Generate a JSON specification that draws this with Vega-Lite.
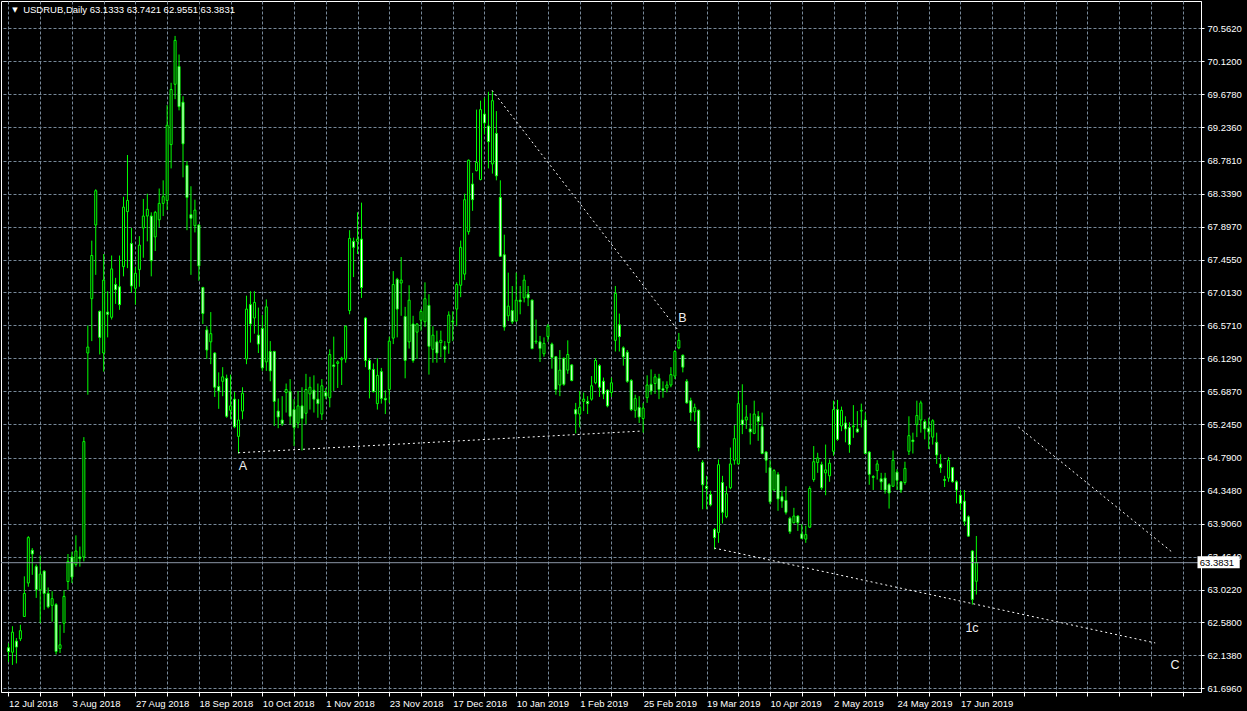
{
  "$schema": "https://vega.github.io/schema/vega-lite/v6.json",
  "width": 1200,
  "height": 691,
  "autosize": {"type": "none"},
  "padding": {"left": 1, "top": 1, "right": 46, "bottom": 19},
  "background": "black",
  "config": {
    "view": {"stroke": "white", "strokeWidth": 1},
    "axis": {
      "domainColor": "white", "tickColor": "white", "labelColor": "white",
      "labelFont": "Liberation Sans", "labelFontSize": 9.5,
      "gridColor": "#778899", "gridDash": [3, 2], "gridOpacity": 1, "gridWidth": 1,
      "labelOverlap": false, "labelFlush": false, "labelBound": false
    }
  },
  "datasets": {
    "candles": [
      {"i":0,"o":62.24,"h":62.30,"l":62.05,"c":62.19},
      {"i":1,"o":62.18,"h":62.53,"l":62.01,"c":62.45},
      {"i":2,"o":62.33,"h":62.37,"l":62.03,"c":62.25},
      {"i":3,"o":62.36,"h":62.55,"l":62.33,"c":62.47},
      {"i":4,"o":62.66,"h":63.20,"l":62.66,"c":62.97},
      {"i":5,"o":63.11,"h":63.74,"l":63.06,"c":63.72},
      {"i":6,"o":63.55,"h":63.58,"l":63.22,"c":63.50},
      {"i":7,"o":63.33,"h":63.36,"l":62.91,"c":63.02},
      {"i":8,"o":63.02,"h":63.48,"l":62.57,"c":63.23},
      {"i":9,"o":63.27,"h":63.28,"l":62.75,"c":62.97},
      {"i":10,"o":62.97,"h":63.05,"l":62.77,"c":62.79},
      {"i":11,"o":62.81,"h":63.00,"l":62.59,"c":62.90},
      {"i":12,"o":62.82,"h":62.84,"l":62.15,"c":62.19},
      {"i":13,"o":62.23,"h":62.55,"l":62.17,"c":62.28},
      {"i":14,"o":62.57,"h":63.01,"l":62.44,"c":62.93},
      {"i":15,"o":63.13,"h":63.50,"l":63.02,"c":63.40},
      {"i":16,"o":63.46,"h":63.53,"l":63.11,"c":63.19},
      {"i":17,"o":63.36,"h":63.75,"l":63.33,"c":63.54},
      {"i":18,"o":63.46,"h":63.60,"l":63.33,"c":63.44},
      {"i":19,"o":63.46,"h":65.07,"l":63.40,"c":65.01},
      {"i":20,"o":66.20,"h":66.57,"l":65.64,"c":66.28},
      {"i":21,"o":66.93,"h":67.71,"l":66.36,"c":67.51},
      {"i":22,"o":67.92,"h":68.40,"l":67.25,"c":68.38},
      {"i":23,"o":66.76,"h":66.77,"l":66.18,"c":66.41},
      {"i":24,"o":66.20,"h":67.53,"l":65.95,"c":67.18},
      {"i":25,"o":66.75,"h":67.03,"l":66.41,"c":66.72},
      {"i":26,"o":66.68,"h":67.51,"l":66.65,"c":67.33},
      {"i":27,"o":67.12,"h":67.21,"l":66.86,"c":67.05},
      {"i":28,"o":67.09,"h":67.51,"l":66.78,"c":66.85},
      {"i":29,"o":67.36,"h":68.30,"l":67.23,"c":68.16},
      {"i":30,"o":68.10,"h":68.86,"l":67.34,"c":68.25},
      {"i":31,"o":67.67,"h":67.88,"l":67.01,"c":67.10},
      {"i":32,"o":67.07,"h":67.35,"l":66.85,"c":67.27},
      {"i":33,"o":67.32,"h":67.77,"l":67.09,"c":67.65},
      {"i":34,"o":67.88,"h":68.27,"l":67.48,"c":68.04},
      {"i":35,"o":68.04,"h":68.34,"l":67.70,"c":68.13},
      {"i":36,"o":68.04,"h":68.09,"l":67.23,"c":67.44},
      {"i":37,"o":67.76,"h":68.11,"l":67.57,"c":68.09},
      {"i":38,"o":67.99,"h":68.41,"l":67.89,"c":68.21},
      {"i":39,"o":68.21,"h":68.52,"l":68.04,"c":68.30},
      {"i":40,"o":68.25,"h":69.53,"l":68.12,"c":69.26},
      {"i":41,"o":69.00,"h":69.83,"l":68.68,"c":69.74},
      {"i":42,"o":69.81,"h":70.46,"l":69.61,"c":70.40},
      {"i":43,"o":70.05,"h":70.21,"l":69.46,"c":69.51},
      {"i":44,"o":69.57,"h":69.65,"l":68.56,"c":69.01},
      {"i":45,"o":68.72,"h":68.78,"l":67.85,"c":68.29},
      {"i":46,"o":68.06,"h":68.44,"l":67.25,"c":68.01},
      {"i":47,"o":67.91,"h":68.26,"l":67.82,"c":68.12},
      {"i":48,"o":67.92,"h":67.93,"l":67.17,"c":67.37},
      {"i":49,"o":67.08,"h":67.09,"l":66.59,"c":66.73},
      {"i":50,"o":66.51,"h":66.56,"l":66.12,"c":66.24},
      {"i":51,"o":66.35,"h":66.75,"l":66.05,"c":66.46},
      {"i":52,"o":66.20,"h":66.21,"l":65.61,"c":65.74},
      {"i":53,"o":65.75,"h":65.94,"l":65.45,"c":65.69},
      {"i":54,"o":65.82,"h":66.01,"l":65.62,"c":65.88},
      {"i":55,"o":65.86,"h":65.91,"l":65.33,"c":65.35},
      {"i":56,"o":65.43,"h":65.91,"l":65.31,"c":65.49},
      {"i":57,"o":65.58,"h":65.68,"l":65.19,"c":65.21},
      {"i":58,"o":65.08,"h":65.58,"l":64.85,"c":65.30},
      {"i":59,"o":65.42,"h":65.74,"l":65.31,"c":65.66},
      {"i":60,"o":66.12,"h":66.97,"l":66.05,"c":66.79},
      {"i":61,"o":66.85,"h":67.03,"l":66.34,"c":66.59},
      {"i":62,"o":66.67,"h":67.03,"l":66.46,"c":66.88},
      {"i":63,"o":66.44,"h":66.81,"l":66.20,"c":66.32},
      {"i":64,"o":66.53,"h":66.71,"l":65.96,"c":66.00},
      {"i":65,"o":66.08,"h":66.92,"l":65.96,"c":66.82},
      {"i":66,"o":66.22,"h":66.36,"l":65.82,"c":65.96},
      {"i":67,"o":66.22,"h":66.23,"l":65.22,"c":65.55},
      {"i":68,"o":65.42,"h":65.59,"l":65.19,"c":65.34},
      {"i":69,"o":65.30,"h":65.62,"l":65.22,"c":65.25},
      {"i":70,"o":65.67,"h":65.79,"l":65.40,"c":65.71},
      {"i":71,"o":65.68,"h":65.85,"l":65.24,"c":65.35},
      {"i":72,"o":65.44,"h":65.58,"l":64.95,"c":65.20},
      {"i":73,"o":65.26,"h":65.69,"l":65.19,"c":65.49},
      {"i":74,"o":65.49,"h":65.74,"l":64.89,"c":65.32},
      {"i":75,"o":65.39,"h":65.92,"l":65.24,"c":65.71},
      {"i":76,"o":65.65,"h":65.88,"l":65.44,"c":65.74},
      {"i":77,"o":65.70,"h":65.90,"l":65.40,"c":65.58},
      {"i":78,"o":65.58,"h":65.79,"l":65.33,"c":65.52},
      {"i":79,"o":65.38,"h":65.85,"l":65.30,"c":65.76},
      {"i":80,"o":65.67,"h":65.73,"l":65.58,"c":65.62},
      {"i":81,"o":65.60,"h":66.25,"l":65.47,"c":66.18},
      {"i":82,"o":66.04,"h":66.42,"l":65.69,"c":66.02},
      {"i":83,"o":66.06,"h":66.10,"l":65.73,"c":66.08},
      {"i":84,"o":66.11,"h":66.15,"l":65.77,"c":66.13},
      {"i":85,"o":66.12,"h":66.57,"l":66.07,"c":66.56},
      {"i":86,"o":66.77,"h":67.85,"l":66.72,"c":67.74},
      {"i":87,"o":67.70,"h":67.75,"l":67.22,"c":67.62},
      {"i":88,"o":67.70,"h":68.09,"l":67.53,"c":67.73},
      {"i":89,"o":67.73,"h":68.22,"l":66.94,"c":67.08},
      {"i":90,"o":66.67,"h":66.68,"l":66.01,"c":66.10},
      {"i":91,"o":66.10,"h":66.13,"l":65.59,"c":65.98},
      {"i":92,"o":65.98,"h":66.06,"l":65.67,"c":65.68},
      {"i":93,"o":65.52,"h":66.13,"l":65.44,"c":65.90},
      {"i":94,"o":65.95,"h":66.00,"l":65.52,"c":65.59},
      {"i":95,"o":65.59,"h":65.70,"l":65.38,"c":65.57},
      {"i":96,"o":65.71,"h":66.42,"l":65.53,"c":66.36},
      {"i":97,"o":66.40,"h":67.30,"l":66.32,"c":67.12},
      {"i":98,"o":67.19,"h":67.21,"l":66.41,"c":66.79},
      {"i":99,"o":67.14,"h":67.49,"l":66.70,"c":67.18},
      {"i":100,"o":66.69,"h":66.82,"l":65.86,"c":66.10},
      {"i":101,"o":66.35,"h":67.11,"l":66.26,"c":66.91},
      {"i":102,"o":66.59,"h":66.70,"l":66.07,"c":66.10},
      {"i":103,"o":66.48,"h":66.60,"l":66.12,"c":66.59},
      {"i":104,"o":66.64,"h":66.79,"l":66.50,"c":66.76},
      {"i":105,"o":66.62,"h":67.15,"l":66.55,"c":66.93},
      {"i":106,"o":66.84,"h":66.99,"l":65.91,"c":66.29},
      {"i":107,"o":66.25,"h":66.56,"l":66.07,"c":66.44},
      {"i":108,"o":66.35,"h":66.50,"l":66.07,"c":66.20},
      {"i":109,"o":66.34,"h":66.50,"l":66.14,"c":66.37},
      {"i":110,"o":66.29,"h":66.36,"l":66.07,"c":66.25},
      {"i":111,"o":66.34,"h":66.76,"l":66.19,"c":66.71},
      {"i":112,"o":66.63,"h":66.76,"l":66.36,"c":66.62},
      {"i":113,"o":66.79,"h":67.15,"l":66.56,"c":67.12},
      {"i":114,"o":67.11,"h":67.71,"l":66.95,"c":67.62},
      {"i":115,"o":67.26,"h":68.34,"l":67.18,"c":68.26},
      {"i":116,"o":67.83,"h":68.80,"l":67.79,"c":68.79},
      {"i":117,"o":68.47,"h":68.62,"l":68.11,"c":68.26},
      {"i":118,"o":68.65,"h":69.47,"l":68.64,"c":68.76},
      {"i":119,"o":68.53,"h":69.59,"l":68.52,"c":69.47},
      {"i":120,"o":69.41,"h":69.63,"l":69.14,"c":69.29},
      {"i":121,"o":69.25,"h":69.71,"l":68.68,"c":69.04},
      {"i":122,"o":68.74,"h":69.72,"l":68.61,"c":69.59},
      {"i":123,"o":69.15,"h":69.45,"l":68.52,"c":68.58},
      {"i":124,"o":68.29,"h":68.52,"l":67.49,"c":67.50},
      {"i":125,"o":67.52,"h":67.79,"l":66.50,"c":66.55},
      {"i":126,"o":66.70,"h":67.28,"l":66.63,"c":66.83},
      {"i":127,"o":66.77,"h":67.10,"l":66.59,"c":66.62},
      {"i":128,"o":66.63,"h":67.28,"l":66.62,"c":66.91},
      {"i":129,"o":66.91,"h":67.10,"l":66.72,"c":66.89},
      {"i":130,"o":66.94,"h":67.25,"l":66.88,"c":67.18},
      {"i":131,"o":66.99,"h":67.10,"l":66.83,"c":66.94},
      {"i":132,"o":66.91,"h":66.92,"l":66.25,"c":66.26},
      {"i":133,"o":66.35,"h":66.65,"l":66.32,"c":66.36},
      {"i":134,"o":66.35,"h":66.43,"l":66.08,"c":66.26},
      {"i":135,"o":66.19,"h":66.41,"l":66.15,"c":66.33},
      {"i":136,"o":66.42,"h":66.59,"l":66.35,"c":66.56},
      {"i":137,"o":66.32,"h":66.34,"l":65.99,"c":66.14},
      {"i":138,"o":66.15,"h":66.16,"l":65.64,"c":65.71},
      {"i":139,"o":65.77,"h":66.24,"l":65.62,"c":65.97},
      {"i":140,"o":66.13,"h":66.14,"l":65.76,"c":65.78},
      {"i":141,"o":65.97,"h":66.37,"l":65.92,"c":66.18},
      {"i":142,"o":66.04,"h":66.05,"l":65.82,"c":65.83},
      {"i":143,"o":65.44,"h":65.53,"l":65.12,"c":65.38},
      {"i":144,"o":65.38,"h":65.69,"l":65.20,"c":65.47},
      {"i":145,"o":65.55,"h":65.67,"l":65.42,"c":65.58},
      {"i":146,"o":65.55,"h":65.62,"l":65.38,"c":65.52},
      {"i":147,"o":65.58,"h":65.89,"l":65.56,"c":65.76},
      {"i":148,"o":65.80,"h":66.13,"l":65.78,"c":66.10},
      {"i":149,"o":66.03,"h":66.05,"l":65.61,"c":65.74},
      {"i":150,"o":65.82,"h":65.87,"l":65.58,"c":65.65},
      {"i":151,"o":65.70,"h":65.71,"l":65.47,"c":65.49},
      {"i":152,"o":65.67,"h":65.87,"l":65.61,"c":65.80},
      {"i":153,"o":66.37,"h":67.10,"l":66.22,"c":67.00},
      {"i":154,"o":66.58,"h":66.73,"l":66.22,"c":66.42},
      {"i":155,"o":66.27,"h":66.29,"l":66.03,"c":66.15},
      {"i":156,"o":66.21,"h":66.24,"l":65.80,"c":65.82},
      {"i":157,"o":65.83,"h":65.85,"l":65.42,"c":65.44},
      {"i":158,"o":65.43,"h":65.64,"l":65.33,"c":65.59},
      {"i":159,"o":65.47,"h":65.62,"l":65.26,"c":65.34},
      {"i":160,"o":65.32,"h":65.53,"l":65.13,"c":65.46},
      {"i":161,"o":65.60,"h":65.90,"l":65.53,"c":65.77},
      {"i":162,"o":65.78,"h":65.98,"l":65.64,"c":65.69},
      {"i":163,"o":65.79,"h":65.92,"l":65.65,"c":65.88},
      {"i":164,"o":65.86,"h":65.92,"l":65.58,"c":65.71},
      {"i":165,"o":65.72,"h":65.82,"l":65.60,"c":65.70},
      {"i":166,"o":65.73,"h":65.82,"l":65.67,"c":65.77},
      {"i":167,"o":65.77,"h":66.01,"l":65.74,"c":65.91},
      {"i":168,"o":65.89,"h":66.24,"l":65.85,"c":66.22},
      {"i":169,"o":66.27,"h":66.47,"l":66.25,"c":66.37},
      {"i":170,"o":66.17,"h":66.18,"l":65.94,"c":66.01},
      {"i":171,"o":65.82,"h":65.85,"l":65.52,"c":65.53},
      {"i":172,"o":65.56,"h":65.60,"l":65.29,"c":65.40},
      {"i":173,"o":65.41,"h":65.52,"l":65.28,"c":65.47},
      {"i":174,"o":65.43,"h":65.44,"l":64.88,"c":64.93},
      {"i":175,"o":64.73,"h":64.76,"l":64.10,"c":64.43},
      {"i":176,"o":64.41,"h":64.55,"l":64.10,"c":64.38},
      {"i":177,"o":64.30,"h":64.35,"l":64.14,"c":64.16},
      {"i":178,"o":63.83,"h":63.85,"l":63.56,"c":63.72},
      {"i":179,"o":63.79,"h":64.77,"l":63.65,"c":64.70},
      {"i":180,"o":64.46,"h":64.55,"l":63.91,"c":64.06},
      {"i":181,"o":64.00,"h":64.41,"l":63.98,"c":64.31},
      {"i":182,"o":64.39,"h":64.93,"l":64.37,"c":64.71},
      {"i":183,"o":64.76,"h":65.23,"l":64.70,"c":65.05},
      {"i":184,"o":64.71,"h":65.69,"l":64.70,"c":65.52},
      {"i":185,"o":65.30,"h":65.78,"l":65.11,"c":65.24},
      {"i":186,"o":65.30,"h":65.50,"l":65.18,"c":65.34},
      {"i":187,"o":65.18,"h":65.39,"l":64.97,"c":65.14},
      {"i":188,"o":65.12,"h":65.56,"l":65.11,"c":65.38},
      {"i":189,"o":65.35,"h":65.42,"l":65.02,"c":65.28},
      {"i":190,"o":65.21,"h":65.40,"l":64.84,"c":64.85},
      {"i":191,"o":64.87,"h":64.88,"l":64.59,"c":64.76},
      {"i":192,"o":64.66,"h":64.76,"l":64.17,"c":64.20},
      {"i":193,"o":64.36,"h":64.64,"l":64.35,"c":64.62},
      {"i":194,"o":64.57,"h":64.60,"l":64.08,"c":64.24},
      {"i":195,"o":64.27,"h":64.35,"l":64.12,"c":64.21},
      {"i":196,"o":64.22,"h":64.41,"l":64.03,"c":64.06},
      {"i":197,"o":63.98,"h":64.00,"l":63.77,"c":63.80},
      {"i":198,"o":63.92,"h":64.12,"l":63.91,"c":64.01},
      {"i":199,"o":64.01,"h":64.02,"l":63.81,"c":63.92},
      {"i":200,"o":63.77,"h":63.90,"l":63.70,"c":63.71},
      {"i":201,"o":63.70,"h":63.88,"l":63.65,"c":63.76},
      {"i":202,"o":63.86,"h":64.41,"l":63.85,"c":64.38},
      {"i":203,"o":64.50,"h":64.95,"l":64.47,"c":64.74},
      {"i":204,"o":64.73,"h":64.86,"l":64.59,"c":64.79},
      {"i":205,"o":64.70,"h":64.74,"l":64.36,"c":64.39},
      {"i":206,"o":64.59,"h":64.97,"l":64.29,"c":64.63},
      {"i":207,"o":64.55,"h":64.77,"l":64.47,"c":64.72},
      {"i":208,"o":64.88,"h":65.56,"l":64.82,"c":65.44},
      {"i":209,"o":65.44,"h":65.57,"l":65.02,"c":65.04},
      {"i":210,"o":65.22,"h":65.48,"l":65.15,"c":65.43},
      {"i":211,"o":65.26,"h":65.35,"l":65.00,"c":65.18},
      {"i":212,"o":65.20,"h":65.27,"l":64.86,"c":64.97},
      {"i":213,"o":65.21,"h":65.50,"l":65.06,"c":65.22},
      {"i":214,"o":65.18,"h":65.42,"l":65.13,"c":65.14},
      {"i":215,"o":65.42,"h":65.52,"l":65.20,"c":65.43},
      {"i":216,"o":65.30,"h":65.40,"l":64.84,"c":64.85},
      {"i":217,"o":64.87,"h":64.88,"l":64.43,"c":64.57},
      {"i":218,"o":64.54,"h":64.56,"l":64.36,"c":64.53},
      {"i":219,"o":64.62,"h":64.76,"l":64.50,"c":64.71},
      {"i":220,"o":64.51,"h":64.59,"l":64.36,"c":64.47},
      {"i":221,"o":64.52,"h":64.59,"l":64.31,"c":64.36},
      {"i":222,"o":64.43,"h":64.45,"l":64.11,"c":64.32},
      {"i":223,"o":64.41,"h":64.89,"l":64.40,"c":64.76},
      {"i":224,"o":64.60,"h":64.64,"l":64.36,"c":64.49},
      {"i":225,"o":64.47,"h":64.48,"l":64.32,"c":64.36},
      {"i":226,"o":64.46,"h":64.74,"l":64.43,"c":64.65},
      {"i":227,"o":64.88,"h":65.35,"l":64.83,"c":65.09},
      {"i":228,"o":65.03,"h":65.13,"l":64.85,"c":65.01},
      {"i":229,"o":65.24,"h":65.56,"l":65.07,"c":65.36},
      {"i":230,"o":65.30,"h":65.56,"l":65.13,"c":65.53},
      {"i":231,"o":65.28,"h":65.31,"l":65.04,"c":65.18},
      {"i":232,"o":65.19,"h":65.33,"l":64.91,"c":65.14},
      {"i":233,"o":65.07,"h":65.31,"l":64.97,"c":65.29},
      {"i":234,"o":65.00,"h":65.13,"l":64.71,"c":64.83},
      {"i":235,"o":64.71,"h":64.84,"l":64.59,"c":64.66},
      {"i":236,"o":64.50,"h":64.55,"l":64.40,"c":64.49},
      {"i":237,"o":64.52,"h":64.80,"l":64.47,"c":64.76},
      {"i":238,"o":64.66,"h":64.67,"l":64.46,"c":64.47},
      {"i":239,"o":64.47,"h":64.49,"l":64.18,"c":64.36},
      {"i":240,"o":64.29,"h":64.36,"l":64.09,"c":64.18},
      {"i":241,"o":64.21,"h":64.36,"l":63.88,"c":63.94},
      {"i":242,"o":64.00,"h":64.02,"l":63.73,"c":63.74},
      {"i":243,"o":63.54,"h":63.55,"l":62.82,"c":62.89},
      {"i":244,"o":63.1333,"h":63.7421,"l":62.9551,"c":63.3831}
    ],
    "lines": [
      {"seg":"A","i":57.9,"p":64.86},{"seg":"A","i":159.1,"p":65.15},
      {"seg":"B","i":121.9,"p":69.73},{"seg":"B","i":168.9,"p":66.50},
      {"seg":"L","i":177.9,"p":63.58},{"seg":"L","i":289.1,"p":62.305},
      {"seg":"R","i":254.6,"p":65.206},{"seg":"R","i":293.6,"p":63.514}
    ],
    "labels": [
      {"i":59.1,"p":64.68,"t":"A"},
      {"i":169.9,"p":66.67,"t":"B"},
      {"i":242.9,"p":62.51,"t":"1c"},
      {"i":294.1,"p":62.01,"t":"C"}
    ],
    "current": [{"p":63.3831}],
    "pricebox": [{"i0":299.75,"i1":310.4,"p0":63.31,"p1":63.47,"ti":300.3,"p":63.3831,"t":"63.3831"}],
    "header": [{"i":3.7,"p":70.81,"t":"USDRUB,Daily  63.1333 63.7421 62.9551 63.3831"}],
    "marker": [{"i":1.6,"p":70.81,"t":"▼"}]
  },
  "layer": [
    {
      "data": {"name": "candles"},
      "mark": {"type": "rule", "color": "#00ff00", "strokeWidth": 1},
      "encoding": {
        "x": {"field": "i", "type": "quantitative", "title": "",
              "scale": {"domain": [-0.625, 299.375], "nice": false, "zero": false},
              "axis": {"orient": "bottom", "tickCount": 200, "values": [0,8,16,24,32,40,48,56,64,72,80,88,96,104,112,120,128,136,144,152,160,168,176,184,192,200,208,216,224,232,240,248,256,264,272,280,288,296],
                       "labelExpr": "datum.value % 16 == 0 && datum.value <= 240 ? ['12 Jul 2018','3 Aug 2018','27 Aug 2018','18 Sep 2018','10 Oct 2018','1 Nov 2018','23 Nov 2018','17 Dec 2018','10 Jan 2019','1 Feb 2019','25 Feb 2019','19 Mar 2019','10 Apr 2019','2 May 2019','24 May 2019','17 Jun 2019'][datum.value / 16] : ''",
                       "labelAlign": "left", "labelBaseline": "top", "labelOffset": 0, "labelPadding": 2, "tickSize": 4, "grid": true, "labelOverlap": false}},
        "y": {"field": "l", "type": "quantitative", "title": "",
              "scale": {"domain": [61.646, 70.929], "nice": false, "zero": false},
              "axis": {"orient": "right", "tickCount": 200, "values": [61.696,62.138,62.58,63.022,63.464,63.906,64.348,64.79,65.245,65.687,66.129,66.571,67.013,67.455,67.897,68.339,68.781,69.236,69.678,70.12,70.562],
                       "format": ".4f", "tickSize": 3, "labelPadding": 3, "labelAlign": "left", "labelBaseline": "middle", "grid": true, "labelOverlap": false}},
        "y2": {"field": "h"}
      }
    },
    {
      "data": {"name": "candles"},
      "mark": {"type": "bar", "size": 2, "stroke": "#00ff00", "strokeWidth": 1, "orient": "vertical"},
      "encoding": {
        "x": {"field": "i", "type": "quantitative", "title": "", "scale": {"domain": [-0.625, 299.375], "nice": false, "zero": false}},
        "y": {"field": "o", "type": "quantitative", "title": "", "scale": {"domain": [61.646, 70.929], "nice": false, "zero": false}},
        "y2": {"field": "c"},
        "fill": {"condition": {"test": "datum.c > datum.o", "value": "#000000"}, "value": "#ffffff"}
      }
    },
    {
      "data": {"name": "current"},
      "mark": {"type": "rule", "color": "#8a96a6", "strokeWidth": 1},
      "encoding": {
        "y": {"field": "p", "type": "quantitative", "title": "", "scale": {"domain": [61.646, 70.929], "nice": false, "zero": false}}
      }
    },
    {
      "data": {"name": "lines"},
      "mark": {"type": "line", "color": "white", "strokeWidth": 1, "strokeDash": [2, 3]},
      "encoding": {
        "x": {"field": "i", "type": "quantitative", "title": "", "scale": {"domain": [-0.625, 299.375], "nice": false, "zero": false}},
        "y": {"field": "p", "type": "quantitative", "title": "", "scale": {"domain": [61.646, 70.929], "nice": false, "zero": false}},
        "detail": {"field": "seg"}
      }
    },
    {
      "data": {"name": "labels"},
      "mark": {"type": "text", "color": "#f0f0f0", "font": "Liberation Sans", "fontSize": 12.5, "align": "center", "baseline": "middle"},
      "encoding": {
        "x": {"field": "i", "type": "quantitative", "title": "", "scale": {"domain": [-0.625, 299.375], "nice": false, "zero": false}},
        "y": {"field": "p", "type": "quantitative", "title": "", "scale": {"domain": [61.646, 70.929], "nice": false, "zero": false}},
        "text": {"field": "t"}
      }
    },
    {
      "data": {"name": "pricebox"},
      "mark": {"type": "rect", "fill": "white"},
      "encoding": {
        "x": {"field": "i0", "type": "quantitative", "title": "", "scale": {"domain": [-0.625, 299.375], "nice": false, "zero": false}},
        "x2": {"field": "i1"},
        "y": {"field": "p0", "type": "quantitative", "title": "", "scale": {"domain": [61.646, 70.929], "nice": false, "zero": false}},
        "y2": {"field": "p1"}
      }
    },
    {
      "data": {"name": "pricebox"},
      "mark": {"type": "text", "color": "black", "font": "Liberation Sans", "fontSize": 9.5, "align": "left", "baseline": "middle"},
      "encoding": {
        "x": {"field": "ti", "type": "quantitative", "title": "", "scale": {"domain": [-0.625, 299.375], "nice": false, "zero": false}},
        "y": {"field": "p", "type": "quantitative", "title": "", "scale": {"domain": [61.646, 70.929], "nice": false, "zero": false}},
        "text": {"field": "t"}
      }
    },
    {
      "data": {"name": "header"},
      "mark": {"type": "text", "color": "white", "font": "Liberation Sans", "fontSize": 9.5, "align": "left", "baseline": "middle"},
      "encoding": {
        "x": {"field": "i", "type": "quantitative", "title": "", "scale": {"domain": [-0.625, 299.375], "nice": false, "zero": false}},
        "y": {"field": "p", "type": "quantitative", "title": "", "scale": {"domain": [61.646, 70.929], "nice": false, "zero": false}},
        "text": {"field": "t"}
      }
    },
    {
      "data": {"name": "marker"},
      "mark": {"type": "text", "color": "white", "font": "DejaVu Sans", "fontSize": 7, "align": "center", "baseline": "middle"},
      "encoding": {
        "x": {"field": "i", "type": "quantitative", "title": "", "scale": {"domain": [-0.625, 299.375], "nice": false, "zero": false}},
        "y": {"field": "p", "type": "quantitative", "title": "", "scale": {"domain": [61.646, 70.929], "nice": false, "zero": false}},
        "text": {"field": "t"}
      }
    }
  ]
}
